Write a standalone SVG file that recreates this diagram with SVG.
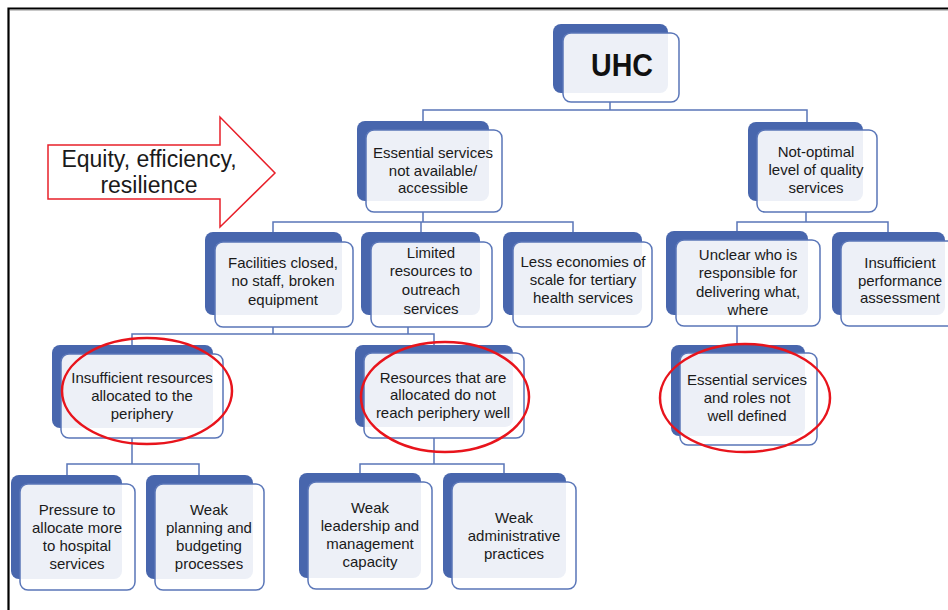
<svg xmlns="http://www.w3.org/2000/svg" width="948" height="610" viewBox="0 0 948 610">
<style>
.bk{fill:#4866ad}
.fr{fill:#ffffff;fill-opacity:0.9;stroke:#5a76b8;stroke-width:1.5}
.t{font-family:"Liberation Sans",Arial,sans-serif;font-size:15px;fill:#1a1a1a;text-anchor:middle}
.c{fill:none;stroke:#5a76b8;stroke-width:1.5}
.ring{fill:none;stroke:#e8141c;stroke-width:2.5}
.at{font-family:"Liberation Sans",Arial,sans-serif;font-size:23px;fill:#1a1a1a;text-anchor:middle}
</style>
<rect width="948" height="610" fill="#ffffff"/>
<path d="M8.5 610 V8.5 H948" fill="none" stroke="#000" stroke-width="2.2"/>
<path d="M10 10.5 H948" fill="none" stroke="#c8c8c8" stroke-width="1"/>

<g id="arrow">
<polygon points="48,145 220,145 220,117 275,173 220,227 220,199 48,199" fill="#ffffff" stroke="#e8202a" stroke-width="1.5"/>
<text class="at" x="149" y="167">Equity, efficiency,</text>
<text class="at" x="149" y="193">resilience</text>
</g>

<g id="connectors">
<path class="c" d="M610 102 V110 M423 121 V110 H807 V122"/>
<path class="c" d="M423 212 V222 M273 232 V222 H573 V232 M421 222 V232"/>
<path class="c" d="M806 212 V222 M737 231 V222 H888 V232"/>
<path class="c" d="M273 327 V334 M408 327 V334 M132 345 V334 H434 V345"/>
<path class="c" d="M737 326 V345"/>
<path class="c" d="M132 438 V464 M67 475 V464 H199 V475"/>
<path class="c" d="M434 438 V464 M360 473 V464 H504 V473"/>
</g>

<g id="uhc">
<rect class="bk" x="553" y="24" width="115" height="69" rx="8"/>
<rect class="fr" x="563" y="33" width="116" height="69" rx="8"/>
<text x="622" y="76" textLength="62" lengthAdjust="spacingAndGlyphs" style="font-family:'Liberation Sans',Arial,sans-serif;font-size:31px;font-weight:bold;fill:#111;text-anchor:middle">UHC</text>
</g>

<g id="essential">
<rect class="bk" x="357" y="121" width="132" height="80" rx="8"/>
<rect class="fr" x="366" y="130" width="136" height="82" rx="8"/>
<text class="t" x="433" y="158">Essential services</text>
<text class="t" x="433" y="176">not available/</text>
<text class="t" x="433" y="193">accessible</text>
</g>

<g id="notoptimal">
<rect class="bk" x="748" y="122" width="115" height="79" rx="8"/>
<rect class="fr" x="757" y="130" width="120" height="82" rx="8"/>
<text class="t" x="816" y="157">Not-optimal</text>
<text class="t" x="816" y="175">level of quality</text>
<text class="t" x="816" y="193">services</text>
</g>

<g id="facilities">
<rect class="bk" x="205" y="232" width="137" height="83" rx="8"/>
<rect class="fr" x="215" y="242" width="138" height="85" rx="8"/>
<text class="t" x="283" y="268">Facilities closed,</text>
<text class="t" x="283" y="286">no staff, broken</text>
<text class="t" x="283" y="305">equipment</text>
</g>

<g id="limited">
<rect class="bk" x="361" y="232" width="119" height="83" rx="8"/>
<rect class="fr" x="371" y="242" width="121" height="85" rx="8"/>
<text class="t" x="431" y="258">Limited</text>
<text class="t" x="431" y="276">resources to</text>
<text class="t" x="431" y="295">outreach</text>
<text class="t" x="431" y="314">services</text>
</g>

<g id="economies">
<rect class="bk" x="503" y="232" width="139" height="83" rx="8"/>
<rect class="fr" x="513" y="242" width="139" height="85" rx="8"/>
<text class="t" x="583" y="267">Less economies of</text>
<text class="t" x="583" y="285">scale for tertiary</text>
<text class="t" x="583" y="303">health services</text>
</g>

<g id="unclear">
<rect class="bk" x="666" y="231" width="142" height="84" rx="8"/>
<rect class="fr" x="676" y="240" width="144" height="86" rx="8"/>
<text class="t" x="748" y="260">Unclear who is</text>
<text class="t" x="748" y="278">responsible for</text>
<text class="t" x="748" y="297">delivering what,</text>
<text class="t" x="748" y="315">where</text>
</g>

<g id="performance">
<rect class="bk" x="832" y="232" width="113" height="83" rx="8"/>
<rect class="fr" x="841" y="241" width="114" height="85" rx="8"/>
<text class="t" x="900" y="268">Insufficient</text>
<text class="t" x="900" y="286">performance</text>
<text class="t" x="900" y="303">assessment</text>
</g>

<g id="insufficient">
<rect class="bk" x="52" y="345" width="161" height="83" rx="8"/>
<rect class="fr" x="61" y="354" width="162" height="84" rx="8"/>
<text class="t" x="142" y="383">Insufficient resources</text>
<text class="t" x="142" y="401">allocated to the</text>
<text class="t" x="142" y="419">periphery</text>
</g>

<g id="notreach">
<rect class="bk" x="355" y="345" width="158" height="82" rx="8"/>
<rect class="fr" x="364" y="353" width="160" height="85" rx="8"/>
<text class="t" x="443" y="383">Resources that are</text>
<text class="t" x="443" y="400">allocated do not</text>
<text class="t" x="443" y="418">reach periphery well</text>
</g>

<g id="roles">
<rect class="bk" x="671" y="345" width="134" height="91" rx="8"/>
<rect class="fr" x="680" y="353" width="137" height="92" rx="8"/>
<text class="t" x="747" y="385">Essential services</text>
<text class="t" x="747" y="403">and roles not</text>
<text class="t" x="747" y="421">well defined</text>
</g>

<g id="pressure">
<rect class="bk" x="11" y="475" width="111" height="104" rx="8"/>
<rect class="fr" x="20" y="484" width="115" height="106" rx="8"/>
<text class="t" x="77" y="515">Pressure to</text>
<text class="t" x="77" y="533">allocate more</text>
<text class="t" x="77" y="551">to hospital</text>
<text class="t" x="77" y="569">services</text>
</g>

<g id="planning">
<rect class="bk" x="146" y="475" width="107" height="104" rx="8"/>
<rect class="fr" x="155" y="484" width="109" height="106" rx="8"/>
<text class="t" x="209" y="515">Weak</text>
<text class="t" x="209" y="533">planning and</text>
<text class="t" x="209" y="551">budgeting</text>
<text class="t" x="209" y="569">processes</text>
</g>

<g id="leadership">
<rect class="bk" x="299" y="473" width="122" height="105" rx="8"/>
<rect class="fr" x="308" y="482" width="124" height="107" rx="8"/>
<text class="t" x="370" y="513">Weak</text>
<text class="t" x="370" y="531">leadership and</text>
<text class="t" x="370" y="549">management</text>
<text class="t" x="370" y="567">capacity</text>
</g>

<g id="administrative">
<rect class="bk" x="443" y="473" width="123" height="105" rx="8"/>
<rect class="fr" x="452" y="482" width="124" height="107" rx="8"/>
<text class="t" x="514" y="523">Weak</text>
<text class="t" x="514" y="541">administrative</text>
<text class="t" x="514" y="559">practices</text>
</g>

<g id="highlights">
<ellipse class="ring" cx="147" cy="391" rx="85" ry="53"/>
<ellipse class="ring" cx="445" cy="397" rx="84" ry="55"/>
<ellipse class="ring" cx="745" cy="398" rx="85" ry="54"/>
</g>
</svg>
